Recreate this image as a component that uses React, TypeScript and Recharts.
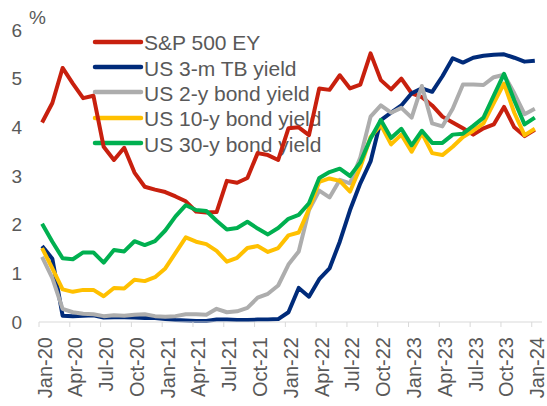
import { LineChart, Line, XAxis, YAxis, Legend } from "recharts"

const months = [
  "Jan-20", "Feb-20", "Mar-20", "Apr-20", "May-20", "Jun-20", "Jul-20", "Aug-20", "Sep-20", "Oct-20", "Nov-20", "Dec-20",
  "Jan-21", "Feb-21", "Mar-21", "Apr-21", "May-21", "Jun-21", "Jul-21", "Aug-21", "Sep-21", "Oct-21", "Nov-21", "Dec-21",
  "Jan-22", "Feb-22", "Mar-22", "Apr-22", "May-22", "Jun-22", "Jul-22", "Aug-22", "Sep-22", "Oct-22", "Nov-22", "Dec-22",
  "Jan-23", "Feb-23", "Mar-23", "Apr-23", "May-23", "Jun-23", "Jul-23", "Aug-23", "Sep-23", "Oct-23", "Nov-23", "Dec-23",
  "Jan-24",
]

const spEY = [
  4.1, 4.5, 5.22, 4.9, 4.6, 4.65, 3.6, 3.33, 3.58, 3.07, 2.78, 2.72,
  2.67, 2.58, 2.48, 2.27, 2.25, 2.26, 2.9, 2.86, 2.96, 3.47, 3.43, 3.33,
  3.98, 4.0, 3.84, 4.8, 4.77, 5.07, 4.8, 4.88, 5.52, 4.97, 4.78, 5.0,
  4.7, 4.62, 4.45, 4.22, 4.1, 3.98, 3.85, 3.98, 4.06, 4.42, 4.0, 3.82,
  3.95,
]

const tb3m = [
  1.56, 1.3, 0.13, 0.12, 0.13, 0.14, 0.09, 0.1, 0.1, 0.09, 0.08, 0.08,
  0.06, 0.04, 0.03, 0.02, 0.02, 0.05, 0.05, 0.04, 0.04, 0.05, 0.05, 0.06,
  0.2, 0.7, 0.52, 0.88, 1.1, 1.65, 2.3, 2.85, 3.3, 4.15, 4.3, 4.45,
  4.7, 4.8, 4.73, 5.05, 5.42, 5.33, 5.43, 5.47, 5.49, 5.5, 5.43, 5.35,
  5.37,
]

const bond2y = [
  1.34, 0.9, 0.27, 0.2, 0.17, 0.16, 0.12, 0.14, 0.13, 0.15, 0.16, 0.12,
  0.11, 0.12, 0.16, 0.16, 0.15, 0.27, 0.2, 0.22, 0.29, 0.5, 0.58, 0.75,
  1.18, 1.45, 2.3, 2.7, 2.56, 2.92, 2.85, 3.38, 4.22, 4.45, 4.3, 4.4,
  4.2, 4.85, 4.08, 4.02, 4.38, 4.88, 4.88, 4.87, 5.03, 5.08, 4.7, 4.27,
  4.38,
]

const bond10y = [
  1.52, 1.1, 0.67, 0.62, 0.66, 0.66, 0.53, 0.7, 0.69, 0.87, 0.84, 0.92,
  1.1, 1.42, 1.74, 1.65, 1.6, 1.46, 1.24, 1.32, 1.52, 1.56, 1.44, 1.52,
  1.78, 1.84, 2.32, 2.88, 2.95, 2.9, 2.68, 3.18, 3.8, 4.05, 3.65, 3.85,
  3.5, 3.88, 3.47, 3.43, 3.6, 3.8, 3.93, 4.08, 4.5, 4.9, 4.3, 3.84,
  3.97,
]

const bond30y = [
  2.02, 1.65, 1.31, 1.29, 1.43, 1.43, 1.22, 1.48, 1.45, 1.66, 1.58, 1.66,
  1.88, 2.17, 2.4, 2.3, 2.28, 2.08, 1.9, 1.93, 2.06, 1.92, 1.8, 1.93,
  2.12, 2.2, 2.44, 2.96, 3.08, 3.15, 3.0, 3.28, 3.77, 4.15, 3.78, 3.97,
  3.63, 3.93, 3.68, 3.68, 3.85, 3.87, 4.03, 4.2, 4.65, 5.1, 4.55, 4.06,
  4.2,
]

const yTicks = [0, 1, 2, 3, 4, 5, 6]

// month-end readings sit a little to the right of the month tick
const data = months.map((m, i) => ({
  t: i + 0.3,
  label: m,
  sp: spEY[i],
  tb: tb3m[i],
  y2: bond2y[i],
  y10: bond10y[i],
  y30: bond30y[i],
}))

const xTicks = months.map((_, i) => i).filter((i) => i % 3 === 0)

const series = [
  { key: "sp", name: "S&P 500 EY", color: "#C8200E" },
  { key: "tb", name: "US 3-m TB yield", color: "#002B7A" },
  { key: "y2", name: "US 2-y bond yield", color: "#ADADAD" },
  { key: "y10", name: "US 10-y bond yield", color: "#FFC000" },
  { key: "y30", name: "US 30-y bond yield", color: "#00B050" },
]

const FONT = "'Liberation Sans', Arial, sans-serif"
const TEXT = "#595959"

function MonthTick({ x, y, payload }: any) {
  return (
    <text
      x={x}
      y={y}
      transform={`rotate(-90, ${x}, ${y})`}
      textAnchor="end"
      dy={12.5}
      fontSize={20}
      fontFamily={FONT}
      fill={TEXT}
    >
      {months[payload.value]}
    </text>
  )
}

function renderLegend() {
  return (
    <div style={{ fontFamily: FONT }}>
      {series.map((s) => (
        <div key={s.key} style={{ display: "flex", alignItems: "center", height: 25.4 }}>
          <svg width={52} height={8}>
            <line x1={3} y1={4} x2={49} y2={4} stroke={s.color} strokeWidth={4.5} strokeLinecap="round" />
          </svg>
          <span style={{ fontSize: 21, color: TEXT, marginTop: 3, whiteSpace: "nowrap" }}>{s.name}</span>
        </div>
      ))}
    </div>
  )
}

export default function App() {
  return (
    <div style={{ position: "absolute", left: 0, top: 0, width: 547, height: 406 }}>
      <span
        style={{
          position: "absolute",
          left: 29,
          top: 7,
          fontSize: 19,
          fontFamily: FONT,
          color: TEXT,
        }}
      >
        %
      </span>
      <LineChart width={547} height={406} data={data} margin={{ top: 30, right: 5, bottom: 0, left: 0 }}>
        <XAxis
          type="number"
          dataKey="t"
          domain={[0, 49]}
          ticks={xTicks}
          interval={0}
          height={84}
          tickSize={5}
          tickMargin={10}
          stroke="#D9D9D9"
          tick={<MonthTick />}
        />
        <YAxis
          domain={[0, 6]}
          ticks={yTicks}
          width={39}
          axisLine={false}
          tickLine={false}
          tickSize={0}
          tickMargin={17}
          tick={{ fontSize: 19, fontFamily: FONT, fill: TEXT }}
        />
        <Legend
          content={renderLegend}
          layout="vertical"
          align="center"
          verticalAlign="middle"
          wrapperStyle={{ left: 92, top: 29, width: 260, zIndex: -1 }}
        />
        {series.map((s) => (
          <Line
            key={s.key}
            type="linear"
            dataKey={s.key}
            name={s.name}
            stroke={s.color}
            strokeWidth={4}
            strokeLinejoin="round"
            dot={false}
            activeDot={false}
            isAnimationActive={false}
          />
        ))}
      </LineChart>
    </div>
  )
}
